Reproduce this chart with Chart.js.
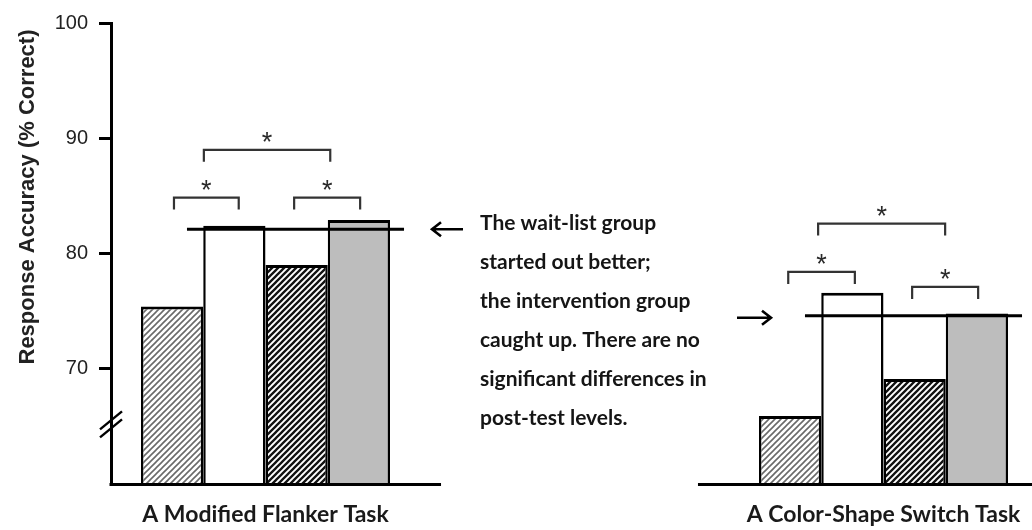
<!DOCTYPE html>
<html><head><meta charset="utf-8">
<script src="https://cdn.jsdelivr.net/npm/chart.js@4/dist/chart.umd.min.js"></script>
<style>
html,body{margin:0;padding:0;background:#fff;overflow:hidden;}
#wrap{width:1045px;height:530px;position:relative;}
</style></head><body>
<div id="wrap"><canvas id="c" width="1045" height="530"></canvas></div>
<script>
// ---- data ----
const categories = ['A Modified Flanker Task', '', 'A Color-Shape Switch Task'];
const interventionPre  = [75.4, null, 65.9];
const interventionPost = [82.4, null, 76.6];
const waitlistPre      = [79.0, null, 69.1];
const waitlistPost     = [82.9, null, 74.8];
const postTestLevel    = [82.1, null, 74.6];
const yTickValues      = [70, 80, 90, 100];
const yTitle = 'Response Accuracy (% Correct)';
const noteLines = ['The wait-list group', 'started out better;', 'the intervention group',
  'caught up. There are no', 'significant differences in', 'post-test levels.'];
// significance brackets: category, bar-slot span, bracket top value
const bracketCat  = [0, 0, 0, 2, 2, 2];
const bracketFrom = [0.53, 2.46, 1.01, 0.47, 2.46, 0.95];
const bracketTo   = [1.57, 3.52, 3.04, 1.54, 3.52, 2.99];
const bracketTop  = [84.85, 84.85, 89.0, 78.4, 77.1, 82.6];

// ---- patterns ----
function hatch(bg, fg, lw) {
  const s = 6, c = document.createElement('canvas');
  c.width = s; c.height = s;
  const g = c.getContext('2d');
  g.fillStyle = bg; g.fillRect(0, 0, s, s);
  g.strokeStyle = fg; g.lineWidth = lw;
  g.beginPath();
  g.moveTo(-s, s * 2); g.lineTo(s * 2, -s);
  g.moveTo(-s, s); g.lineTo(s, -s);
  g.moveTo(0, s * 2); g.lineTo(s * 2, 0);
  g.stroke();
  return g.createPattern(c, 'repeat');
}
const lightHatch = hatch('#ffffff', '#6a6a6a', 1.6);
const darkHatch = hatch('#ffffff', '#111111', 2.3);

const overlay = {
  id: 'overlay',
  afterDraw(chart) {
    const { ctx, chartArea, scales: { x, y } } = chart;
    const metas = [0, 1, 2, 3].map(i => chart.getDatasetMeta(i));
    const ext = cat => {
      const b0 = metas[0].data[cat], b3 = metas[3].data[cat];
      return { left: b0.x - b0.width / 2, right: b3.x + b3.width / 2, w: b0.width };
    };
    ctx.save();
    ctx.lineCap = 'butt';
    // baselines
    ctx.strokeStyle = '#000'; ctx.lineWidth = 3;
    const g0 = ext(0), g2 = ext(2);
    const by = y.getPixelForValue(60) + 0.5;
    ctx.beginPath();
    ctx.moveTo(chartArea.left - 1.5, by); ctx.lineTo(g0.right + 51, by);
    ctx.moveTo(g2.left - 61, by); ctx.lineTo(chart.width, by);
    ctx.stroke();
    // post-test reference lines
    [0, 2].forEach(cat => {
      const g = ext(cat), ly = y.getPixelForValue(postTestLevel[cat]);
      ctx.beginPath();
      ctx.moveTo(g.left + 46, ly); ctx.lineTo(g.right + 14, ly);
      ctx.stroke();
    });
    // axis break
    ctx.lineWidth = 2.4;
    const ax = chartArea.left, bky = y.getPixelForValue(65) - 2;
    [-4, 4].forEach(d => {
      ctx.beginPath();
      ctx.moveTo(ax - 11, bky + d + 9); ctx.lineTo(ax + 11, bky + d - 9);
      ctx.stroke();
    });
    // brackets
    ctx.strokeStyle = '#333'; ctx.lineWidth = 2.2;
    ctx.fillStyle = '#2a2a2a';
    ctx.font = '27px "Liberation Sans"';
    ctx.textAlign = 'center'; ctx.textBaseline = 'alphabetic';
    bracketCat.forEach((cat, i) => {
      const g = ext(cat);
      const x1 = g.left + bracketFrom[i] * g.w, x2 = g.left + bracketTo[i] * g.w;
      const ty = y.getPixelForValue(bracketTop[i]);
      ctx.beginPath();
      ctx.moveTo(x1, ty + 12); ctx.lineTo(x1, ty); ctx.lineTo(x2, ty); ctx.lineTo(x2, ty + 12);
      ctx.stroke();
      ctx.fillText('*', (x1 + x2) / 2, ty + 1);
    });
    // arrows
    ctx.strokeStyle = '#000'; ctx.lineWidth = 2.6;
    const a1y = y.getPixelForValue(postTestLevel[0]);
    ctx.beginPath();
    ctx.moveTo(463, a1y); ctx.lineTo(432, a1y);
    ctx.moveTo(441, a1y - 7); ctx.lineTo(432, a1y); ctx.lineTo(441, a1y + 7);
    ctx.stroke();
    const a2y = y.getPixelForValue(postTestLevel[2]) + 2;
    ctx.beginPath();
    ctx.moveTo(737, a2y); ctx.lineTo(771, a2y);
    ctx.moveTo(762, a2y - 7); ctx.lineTo(771, a2y); ctx.lineTo(762, a2y + 7);
    ctx.stroke();
    // note
    ctx.fillStyle = '#151515';
    ctx.font = 'bold 21px Lato';
    ctx.textAlign = 'left'; ctx.textBaseline = 'middle';
    noteLines.forEach((t, i) => ctx.fillText(t, 480, 223 + i * 39));
    // y title
    ctx.translate(28, 197);
    ctx.rotate(-Math.PI / 2);
    ctx.font = 'bold 22px "Liberation Sans"';
    ctx.fillStyle = '#222';
    ctx.textAlign = 'center';
    ctx.fillText(yTitle, 0, 0);
    ctx.restore();
  }
};

new Chart(document.getElementById('c'), {
  type: 'bar',
  data: {
    labels: categories,
    datasets: [
      { label: 'Intervention pre-test', data: interventionPre, backgroundColor: lightHatch },
      { label: 'Intervention post-test', data: interventionPost, backgroundColor: '#ffffff' },
      { label: 'Wait-list pre-test', data: waitlistPre, backgroundColor: darkHatch },
      { label: 'Wait-list post-test', data: waitlistPost, backgroundColor: '#bdbdbd' }
    ].map(d => Object.assign(d, {
      borderColor: '#000', borderWidth: { top: 3, left: 2.5, right: 2.5, bottom: 0 },
      borderSkipped: 'start', categoryPercentage: 0.806, barPercentage: 1
    }))
  },
  options: {
    responsive: false, animation: false, devicePixelRatio: 1,
    layout: { padding: { top: 22, right: 7, left: 0, bottom: 0 } },
    plugins: { legend: { display: false }, tooltip: { enabled: false } },
    scales: {
      x: {
        grid: { display: false }, border: { display: false },
        ticks: { color: '#1a1a1a', font: { family: 'Lato', weight: 'bold', size: 23 }, padding: 9, maxRotation: 0, autoSkip: false },
        afterFit(s) { s.height = 46; }
      },
      y: {
        min: 60, max: 100,
        afterBuildTicks(s) { s.ticks = [60].concat(yTickValues).map(v => ({ value: v })); },
        border: { color: '#000', width: 3 },
        grid: { drawOnChartArea: false, tickLength: 12, tickWidth: 3,
          tickColor: c => (c.tick && c.tick.value === 60) ? 'rgba(0,0,0,0)' : '#000' },
        ticks: { color: '#222', font: { family: 'Liberation Sans', size: 20 }, padding: 11,
          callback: v => v === 60 ? '' : String(v) },
        afterFit(s) { s.width = 111; }
      }
    }
  },
  plugins: [overlay]
});
</script>
</body></html>
